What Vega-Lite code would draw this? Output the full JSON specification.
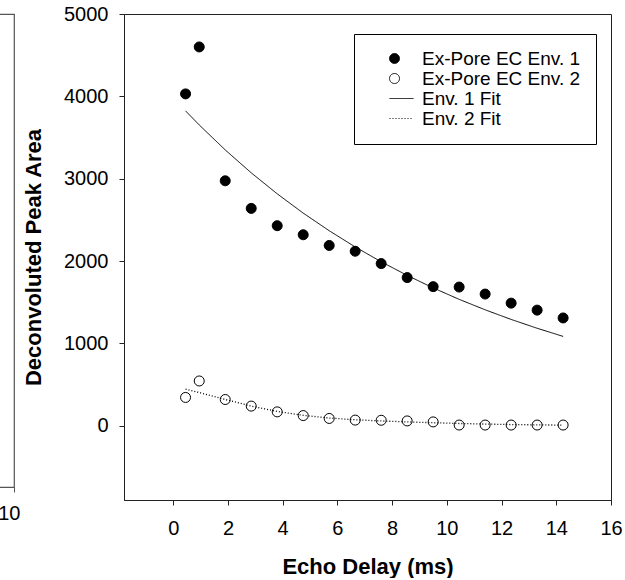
{
  "$schema": "https://vega.github.io/schema/vega-lite/v6.json",
  "padding": {"left": -47, "top": 3, "right": 0, "bottom": 0},
  "bounds": "flush",
  "spacing": 110,
  "config": {
    "font": "Liberation Sans",
    "view": {"stroke": "#222", "strokeWidth": 1},
    "axis": {
      "grid": false,
      "domainColor": "#222",
      "tickColor": "#222",
      "labelColor": "#000",
      "titleColor": "#000",
      "labelFont": "Liberation Sans",
      "titleFont": "Liberation Sans",
      "labelFontSize": 20,
      "titleFontSize": 22,
      "titleFontWeight": "bold",
      "tickSize": 5
    }
  },
  "datasets": {
    "env1": [
      {"delay": 0.45, "area": 4030, "series": "Ex-Pore EC Env. 1"},
      {"delay": 0.95, "area": 4600, "series": "Ex-Pore EC Env. 1"},
      {"delay": 1.9, "area": 2975, "series": "Ex-Pore EC Env. 1"},
      {"delay": 2.85, "area": 2640, "series": "Ex-Pore EC Env. 1"},
      {"delay": 3.8, "area": 2430, "series": "Ex-Pore EC Env. 1"},
      {"delay": 4.75, "area": 2320, "series": "Ex-Pore EC Env. 1"},
      {"delay": 5.7, "area": 2190, "series": "Ex-Pore EC Env. 1"},
      {"delay": 6.65, "area": 2120, "series": "Ex-Pore EC Env. 1"},
      {"delay": 7.6, "area": 1970, "series": "Ex-Pore EC Env. 1"},
      {"delay": 8.55, "area": 1800, "series": "Ex-Pore EC Env. 1"},
      {"delay": 9.5, "area": 1690, "series": "Ex-Pore EC Env. 1"},
      {"delay": 10.45, "area": 1685, "series": "Ex-Pore EC Env. 1"},
      {"delay": 11.4, "area": 1600, "series": "Ex-Pore EC Env. 1"},
      {"delay": 12.35, "area": 1490, "series": "Ex-Pore EC Env. 1"},
      {"delay": 13.3, "area": 1405, "series": "Ex-Pore EC Env. 1"},
      {"delay": 14.25, "area": 1310, "series": "Ex-Pore EC Env. 1"}
    ],
    "env2": [
      {"delay": 0.45, "area": 345, "series": "Ex-Pore EC Env. 2"},
      {"delay": 0.95, "area": 545, "series": "Ex-Pore EC Env. 2"},
      {"delay": 1.9, "area": 320, "series": "Ex-Pore EC Env. 2"},
      {"delay": 2.85, "area": 240, "series": "Ex-Pore EC Env. 2"},
      {"delay": 3.8, "area": 170, "series": "Ex-Pore EC Env. 2"},
      {"delay": 4.75, "area": 125, "series": "Ex-Pore EC Env. 2"},
      {"delay": 5.7, "area": 90, "series": "Ex-Pore EC Env. 2"},
      {"delay": 6.65, "area": 70, "series": "Ex-Pore EC Env. 2"},
      {"delay": 7.6, "area": 68, "series": "Ex-Pore EC Env. 2"},
      {"delay": 8.55, "area": 60, "series": "Ex-Pore EC Env. 2"},
      {"delay": 9.5, "area": 48, "series": "Ex-Pore EC Env. 2"},
      {"delay": 10.45, "area": 10, "series": "Ex-Pore EC Env. 2"},
      {"delay": 11.4, "area": 10, "series": "Ex-Pore EC Env. 2"},
      {"delay": 12.35, "area": 10, "series": "Ex-Pore EC Env. 2"},
      {"delay": 13.3, "area": 10, "series": "Ex-Pore EC Env. 2"},
      {"delay": 14.25, "area": 10, "series": "Ex-Pore EC Env. 2"}
    ],
    "fit1": [
      {"delay": 0.45, "area": 3824, "series": "Env. 1 Fit"},
      {"delay": 0.95, "area": 3653, "series": "Env. 1 Fit"},
      {"delay": 1.9, "area": 3350, "series": "Env. 1 Fit"},
      {"delay": 2.85, "area": 3072, "series": "Env. 1 Fit"},
      {"delay": 3.8, "area": 2817, "series": "Env. 1 Fit"},
      {"delay": 4.75, "area": 2583, "series": "Env. 1 Fit"},
      {"delay": 5.7, "area": 2369, "series": "Env. 1 Fit"},
      {"delay": 6.65, "area": 2172, "series": "Env. 1 Fit"},
      {"delay": 7.6, "area": 1992, "series": "Env. 1 Fit"},
      {"delay": 8.55, "area": 1827, "series": "Env. 1 Fit"},
      {"delay": 9.5, "area": 1675, "series": "Env. 1 Fit"},
      {"delay": 10.45, "area": 1536, "series": "Env. 1 Fit"},
      {"delay": 11.4, "area": 1409, "series": "Env. 1 Fit"},
      {"delay": 12.35, "area": 1292, "series": "Env. 1 Fit"},
      {"delay": 13.3, "area": 1185, "series": "Env. 1 Fit"},
      {"delay": 14.25, "area": 1086, "series": "Env. 1 Fit"}
    ],
    "fit2": [
      {"delay": 0.45, "area": 445, "series": "Env. 2 Fit"},
      {"delay": 0.95, "area": 405, "series": "Env. 2 Fit"},
      {"delay": 1.9, "area": 320, "series": "Env. 2 Fit"},
      {"delay": 2.85, "area": 240, "series": "Env. 2 Fit"},
      {"delay": 3.8, "area": 175, "series": "Env. 2 Fit"},
      {"delay": 4.75, "area": 128, "series": "Env. 2 Fit"},
      {"delay": 5.7, "area": 95, "series": "Env. 2 Fit"},
      {"delay": 6.65, "area": 74, "series": "Env. 2 Fit"},
      {"delay": 7.6, "area": 60, "series": "Env. 2 Fit"},
      {"delay": 8.55, "area": 48, "series": "Env. 2 Fit"},
      {"delay": 9.5, "area": 38, "series": "Env. 2 Fit"},
      {"delay": 10.45, "area": 29, "series": "Env. 2 Fit"},
      {"delay": 11.4, "area": 22, "series": "Env. 2 Fit"},
      {"delay": 12.35, "area": 16, "series": "Env. 2 Fit"},
      {"delay": 13.3, "area": 12, "series": "Env. 2 Fit"},
      {"delay": 14.25, "area": 9, "series": "Env. 2 Fit"}
    ],
    "left": [{"delay": 10}]
  },
  "hconcat": [
    {
      "width": 60,
      "height": 473,
      "view": {"stroke": "#555", "strokeWidth": 1.2},
      "data": {"name": "left"},
      "mark": {"type": "point", "opacity": 0},
      "encoding": {
        "x": {
          "field": "delay",
          "type": "quantitative",
          "scale": {"domain": [8, 10], "nice": false, "zero": false},
          "axis": {"values": [10], "title": null, "labelAlign": "right", "labelOffset": 6, "labelPadding": 11, "domainColor": "#555", "tickColor": "#555"}
        }
      }
    },
    {
      "width": 487,
      "height": 486,
      "encoding": {
        "x": {
          "field": "delay",
          "type": "quantitative",
          "scale": {"domain": [-1.8, 16], "nice": false, "zero": false},
          "axis": {"values": [0, 2, 4, 6, 8, 10, 12, 14, 16], "title": "Echo Delay (ms)", "labelFlush": false, "labelPadding": 13, "titlePadding": 18}
        },
        "y": {
          "field": "area",
          "type": "quantitative",
          "scale": {"domain": [-900, 5000], "nice": false, "zero": false},
          "axis": {"values": [0, 1000, 2000, 3000, 4000, 5000], "format": "d", "title": "Deconvoluted Peak Area", "labelPadding": 11, "titlePadding": 18}
        },
        "color": {
          "field": "series",
          "type": "nominal",
          "scale": {
            "domain": ["Ex-Pore EC Env. 1", "Ex-Pore EC Env. 2", "Env. 1 Fit", "Env. 2 Fit"],
            "range": ["#000", "#000", "#000", "#000"]
          },
          "legend": {
            "orient": "none",
            "legendX": 400,
            "legendY": 20,
            "title": null,
            "strokeColor": "#000",
            "fillColor": "#fff",
            "padding": 15,
            "labelFont": "Liberation Sans",
            "labelFontSize": 19,
            "labelColor": "#000",
            "labelLimit": 400,
            "symbolSize": 100,
            "symbolStrokeWidth": 1,
            "symbolOffset": 16,
            "labelOffset": 18,
            "rowPadding": 0
          }
        }
      },
      "layer": [
        {
          "data": {"name": "fit1"},
          "mark": {"type": "line", "strokeWidth": 1},
          "encoding": {
            "strokeDash": {"field": "series", "type": "nominal", "scale": {"domain": ["Ex-Pore EC Env. 1", "Ex-Pore EC Env. 2", "Env. 1 Fit", "Env. 2 Fit"], "range": [[1, 0], [1, 0], [1, 0], [1, 2]]}}
          }
        },
        {
          "data": {"name": "fit2"},
          "mark": {"type": "line", "strokeWidth": 1.3},
          "encoding": {
            "strokeDash": {"field": "series", "type": "nominal", "scale": {"domain": ["Ex-Pore EC Env. 1", "Ex-Pore EC Env. 2", "Env. 1 Fit", "Env. 2 Fit"], "range": [[1, 0], [1, 0], [1, 0], [1, 2]]}}
          }
        },
        {
          "data": {"name": "env1"},
          "mark": {"type": "point", "filled": false, "size": 100, "strokeWidth": 1, "opacity": 1},
          "encoding": {
            "shape": {"field": "series", "type": "nominal", "scale": {"domain": ["Ex-Pore EC Env. 1", "Ex-Pore EC Env. 2", "Env. 1 Fit", "Env. 2 Fit"], "range": ["circle", "circle", "M-1,0L3.8,0", "M-1,0L3.8,0"]}},
            "fill": {"field": "series", "type": "nominal", "scale": {"domain": ["Ex-Pore EC Env. 1", "Ex-Pore EC Env. 2", "Env. 1 Fit", "Env. 2 Fit"], "range": ["#000", "transparent", "transparent", "transparent"]}}
          }
        },
        {
          "data": {"name": "env2"},
          "mark": {"type": "point", "filled": false, "size": 100, "strokeWidth": 1, "opacity": 1},
          "encoding": {
            "shape": {"field": "series", "type": "nominal", "scale": {"domain": ["Ex-Pore EC Env. 1", "Ex-Pore EC Env. 2", "Env. 1 Fit", "Env. 2 Fit"], "range": ["circle", "circle", "M-1,0L3.8,0", "M-1,0L3.8,0"]}},
            "fill": {"field": "series", "type": "nominal", "scale": {"domain": ["Ex-Pore EC Env. 1", "Ex-Pore EC Env. 2", "Env. 1 Fit", "Env. 2 Fit"], "range": ["#000", "transparent", "transparent", "transparent"]}}
          }
        }
      ]
    }
  ]
}
